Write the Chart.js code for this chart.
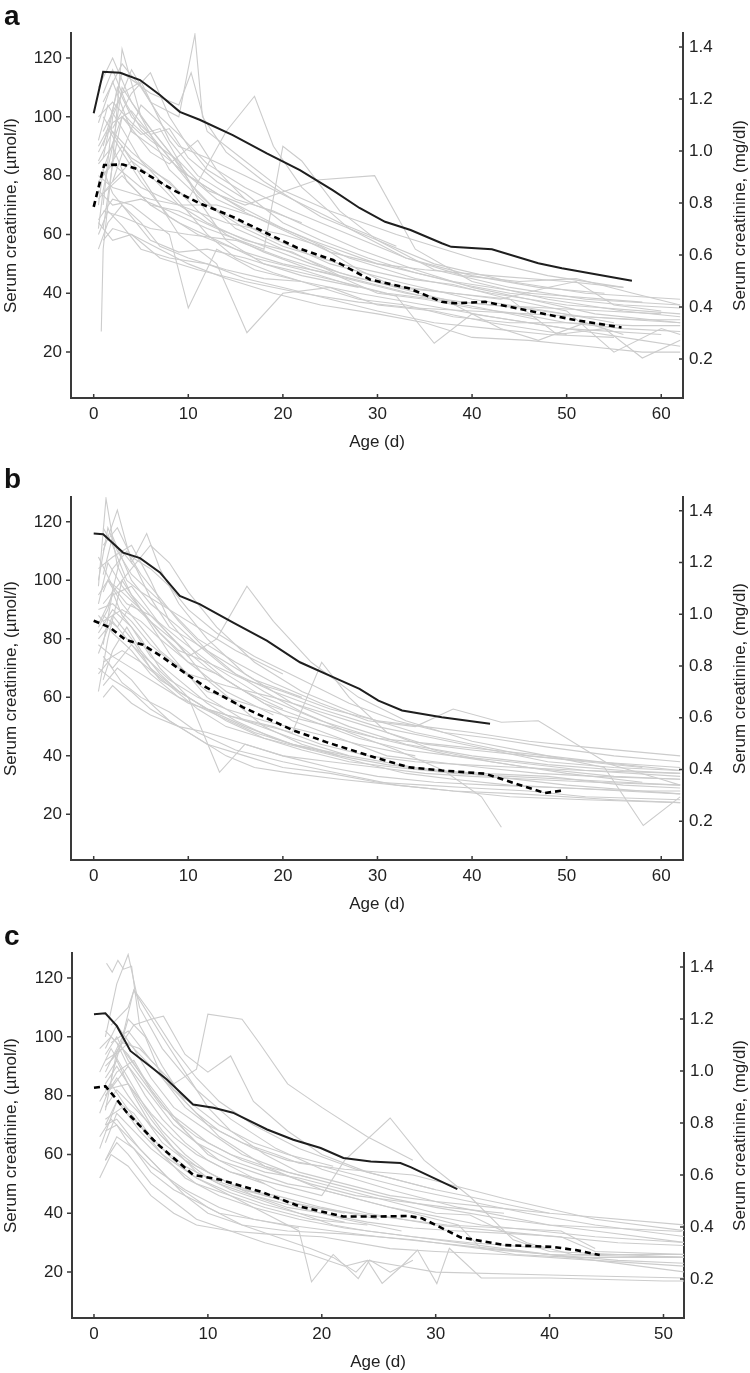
<!DOCTYPE html>
<html>
<head>
<meta charset="utf-8">
<script src="https://cdn.jsdelivr.net/npm/chart.js@4.4.1/dist/chart.umd.min.js"></script>
<style>
  html, body { margin: 0; padding: 0; background: #fff; }
  .panel { position: absolute; left: 0; width: 750px; }
</style>
</head>
<body>
<div class="panel" style="top:0;height:455px"><canvas id="chartA"></canvas></div>
<div class="panel" style="top:455px;height:460px"><canvas id="chartB"></canvas></div>
<div class="panel" style="top:915px;height:458px"><canvas id="chartC"></canvas></div>
<script>
// µmol/l -> mg/dl
const MGDL_FACTOR = 88.4;
const yMinUmol = 4.4;
const yMaxUmol = 128.5;
const umolTicks = [20, 40, 60, 80, 100, 120];
const mgTicks = [0.2, 0.4, 0.6, 0.8, 1.0, 1.2, 1.4];
const ageTicksAB = [0, 10, 20, 30, 40, 50, 60];
const ageTicksC = [0, 10, 20, 30, 40, 50];

const leftTitle = 'Serum creatinine, (\u00b5mol/l)';
const rightTitle = 'Serum creatinine, (mg/dl)';
const ageTitle = 'Age (d)';

// ---- panel a ----
const upperA = [[0,101.2],[1,115.3],[2.8,115],[4.9,112.5],[7,107.4],[9.1,101.7],[11.2,99],[14.7,93.8],[18.3,87.6],[21.8,81.9],[25.3,75],[28.1,69],[30.8,64.3],[33.5,61.5],[36.8,57],[37.8,55.8],[42.1,55],[47,50.2],[49.5,48.5],[56.9,44.3]];
const medianA = [[0,69.4],[1.1,83.6],[3.1,83.8],[4.9,81.9],[8.4,75.1],[11.2,70.6],[14.7,66],[18.3,60.4],[21.5,55.5],[25.3,51.3],[29.2,44.7],[33.3,41.7],[36.8,37.1],[38.2,36.6],[41.4,37.1],[45.6,34.3],[50.9,30.9],[55.8,28.4]];
const grayA = [
  [[0.5,98],[2,112],[4,95],[7,88],[10,80],[14,72],[20,62],[27,52],[34,45],[42,40],[50,36],[62,33]],
  [[0.5,62],[1,75],[2,90],[3,110],[5,100],[8,82],[12,70],[18,60],[25,50],[32,44],[40,38],[48,34],[55,30]],
  [[0.8,27],[1,55],[2,85],[3,123],[5,100],[7,92],[10,80],[13,72],[17,66],[23,58],[30,50],[38,44],[46,40],[58,37]],
  [[1,70],[2,100],[4,116],[6,105],[9,100],[10.7,128],[11.5,100],[14,88],[18,78],[24,66],[30,58],[36,50],[44,44],[52,40],[62,38]],
  [[1,90],[3,115],[6,108],[9,104],[10.3,115],[12,95],[16,85],[20,75],[25,68],[32,60],[40,52],[48,46],[56,42]],
  [[0.5,85],[2,95],[4,88],[7,80],[10,72],[14,95],[17,107],[19,90],[22,76],[27,62],[33,52],[40,46],[47,42],[54,40]],
  [[0.5,75],[2,70],[5,72],[8,68],[12,62],[18,55],[20,90],[22,85],[26,68],[30,58],[36,48],[44,42],[52,38],[62,36]],
  [[0.5,65],[2,72],[4,70],[8,60],[10,35],[13,55],[17,48],[22,44],[28,40],[35,36],[42,32],[50,28],[60,26]],
  [[1,80],[3,90],[6,75],[9,60],[13,50],[16.2,26.6],[20,40],[25,42],[30,36],[36,34],[42,30],[50,26]],
  [[0.5,100],[2,105],[4,98],[6,92],[9,85],[12,75],[16,70],[23.6,78.5],[29.7,80],[34,55],[40,44],[48,38],[56,34],[62,32]],
  [[0.5,60],[1.5,68],[3,63],[5,55],[8,52],[12,50],[16,45],[20,42],[25,38],[30,34],[36,30],[42,28],[48,26],[55,25]],
  [[1,95],[3,108],[5,112],[8,92],[11,80],[15,72],[19,68],[23,62],[28,55],[34,48],[40,42],[46,38],[53,33],[62,30]],
  [[0.5,72],[2,78],[4,85],[6,80],[9,70],[12,64],[16,58],[21,54],[26,46],[31,42],[36,38],[41,35],[47,31]],
  [[1,58],[2,62],[4,60],[7,55],[10,50],[14,45],[19,40],[24,36],[30,33],[35,30],[40,25],[46,24],[52,22],[58,20],[62,20]],
  [[0.5,88],[2,98],[4,102],[7,90],[10,78],[13,68],[16,62],[20,56],[26,50],[33,45],[38,43],[44,38],[50,34],[55,20],[60,28],[62,26]],
  [[1,105],[3,118],[5,110],[7,100],[9,94],[12,84],[16,76],[21,68],[27,60],[33,52],[39,46],[45,44],[51,45],[57,40],[62,36]],
  [[0.5,78],[2,84],[5,76],[9,70],[14,64],[20,60],[24,56],[28,48],[32,42],[38,40],[44,38],[49,26],[54,28],[58,18],[62,24]],
  [[1,68],[3,66],[6,62],[10,60],[15,58],[20,52],[25,47],[30,40],[35,38],[40,35],[45,33],[50,30],[56,28],[62,27]],
  [[0.5,92],[1.5,104],[3,96],[5,85],[8,75],[12,60],[15,52],[19,47],[24,42],[28,38],[33,36],[38,32],[44,30],[50,30],[57,29],[62,29]],
  [[1,82],[3,100],[5,94],[7,96],[9,85],[11,72],[14,58],[18,50],[22,47],[26,44],[31,40],[36,38],[42,36],[48,35],[54,34],[60,33]],
  [[0.5,110],[2,120],[4,105],[6,96],[8,88],[11,74],[15,62],[20,55],[26,47],[32,42],[37,38],[43,28],[47,24],[52,30],[56,26]],
  [[1,74],[3,80],[6,70],[9,64],[13,58],[17,52],[22,48],[27,43],[32,39],[36,23],[40,33],[46,30],[52,27],[58,24],[62,22]],
  [[0.5,64],[2,58],[4,60],[7,52],[11,48],[16,44],[22,40],[28,37],[34,35],[40,34],[46,33],[52,32],[58,31],[62,31]],
  [[2,96],[4,108],[6,115],[8,100],[10,90],[12,82],[16,74],[20,64],[24,58],[29,52],[34,47],[39,43],[44,40],[50,38],[56,36],[62,35]],
  [[0.5,84],[2,90],[3.5,78],[6,70],[9,68],[13,62],[18,56],[23,50],[28,45],[33,42],[38,40],[43,38],[48,42],[51,44],[55,36],[60,34]],
  [[1,100],[2.5,92],[4,86],[6,82],[8,78],[11,68],[14,60],[18,54],[23,48],[28,44],[33,40],[39,37],[45,35],[52,32],[62,30]],
  [[0.5,90],[1.5,96],[3,88],[5,78],[8,66],[11,60],[15,55],[20,50],[26,46]],
  [[1,108],[2,116],[3.5,104],[5,96],[7,90],[9,82],[12,76],[16,68]],
  [[0.5,70],[1,82],[2,74],[4,66],[6,58],[9,54],[12,55],[16,52],[22,46],[28,42]],
  [[1,86],[2.5,110],[4,100],[6,94],[8,96],[10,86],[13,78],[17,70],[22,64]],
  [[0.5,55],[1.5,64],[3,70],[5,64],[7,56],[10,52],[14,48],[18,45],[22,44]],
  [[2,78],[3.5,92],[5,104],[7,98],[9,90],[12,86],[16,80],[21,72],[26,64],[32,56]],
  [[1,62],[2,84],[3,100],[4.5,94],[6,88],[8,84],[11,92],[13,82],[16,72]],
  [[0.5,80],[2,76],[4,74],[6,72],[9,70],[13,70],[17,66],[21,60],[25,54],[30,50],[35,48],[42,46],[50,44],[56,42]]
];

// ---- panel b ----
const upperB = [[0,116],[1,115.8],[3.1,109.5],[4.9,107.6],[7,102.7],[9.1,94.7],[11.2,91.9],[14.7,85.6],[18.3,79.4],[21.8,72],[25.3,66.9],[28.1,62.9],[30.1,58.9],[32.6,55.5],[36.8,53.2],[41.9,51]];
const medianB = [[0,86.2],[1.7,83.9],[3.4,79.6],[5.2,78],[7.3,73.7],[9.8,68],[11.9,63.4],[15.8,56.6],[21.1,48.7],[24.6,44.7],[29.9,39.3],[33.3,36.1],[36.8,35],[41.4,33.9],[44.6,30.5],[47.7,27.3],[49.7,28.2]];
const grayB = [
  [[0.5,98],[1.3,128],[2.5,105],[4,95],[6,88],[9,80],[13,70],[18,60],[24,52],[30,46],[38,40],[46,36],[55,33],[62,32]],
  [[0.5,62],[1.5,80],[3,100],[5,90],[8,75],[12,60],[16,52],[21,46],[27,40],[34,36],[42,33],[50,30],[58,28],[62,27]],
  [[1,110],[2.5,124],[4,106],[5.6,116],[7,104],[9,92],[12,80],[16,68],[21,58],[27,50],[33,44],[40,40],[48,37],[56,35],[62,34]],
  [[0.5,85],[2,95],[4,98],[7,85],[10,74],[13,80],[16.2,98],[19,86],[23,72],[28,60],[33,52],[40,45],[48,40],[56,37],[62,35]],
  [[0.5,75],[2,88],[4,80],[6,70],[9,62],[12,56],[16,52],[21,48],[24.1,72],[27,60],[31,48],[36,42],[42,38],[50,34],[58,31]],
  [[1,92],[3,100],[6,112],[8,106],[10,96],[13,84],[17,72],[22,62],[28,54],[34,48],[40,44],[46,40],[53,38],[62,36]],
  [[0.5,68],[1.5,72],[3,65],[5,60],[8,55],[11,48],[15,42],[20,38],[26,34],[32,30],[38,28],[44,26],[52,25],[62,24]],
  [[1,102],[2,115],[4,100],[6,92],[9,84],[11,78],[14,70],[18,62],[22,55],[27,48],[32,42],[37,35],[41,26],[43.1,15.6]],
  [[0.5,80],[2,86],[4,78],[7,66],[10,60],[13.3,34.4],[16,44],[20,40],[25,36],[30,33],[36,31],[42,30],[50,29],[58,28],[62,28]],
  [[1,118],[2,112],[3.5,100],[5,96],[8,90],[11,80],[15,72],[19,65],[24,58],[29,52],[34,50],[38,56],[43.1,51.5],[47,52],[54.4,37.3],[60,32],[62,30]],
  [[0.5,90],[2,92],[4,86],[6,78],[9,70],[12,62],[16,58],[20,54],[25,50],[30,46],[36,44],[42,42],[48,40],[54,36],[58.1,16.2],[62,26]],
  [[1,72],[3,76],[5,72],[8,64],[11,56],[14,50],[18,46],[22,42],[27,38],[32,36],[38,34],[44,33],[50,32],[56,31],[62,30]],
  [[0.5,104],[2,108],[4,112],[6,100],[8,86],[11,74],[14,66],[18,58],[23,52],[28,46],[33,42],[38,40],[44,38],[52,35],[62,33]],
  [[1,64],[2.5,70],[4,66],[6,58],[8,52],[11,46],[14,40],[17,36],[21,34],[26,32],[32,30],[38,28],[45,27],[55,25],[62,24]],
  [[0.5,95],[1.5,100],[3,92],[5,84],[7,76],[10,68],[14,64],[19,60],[24,55],[29,50],[35,44],[40,42],[46,40],[52,38],[58,36]],
  [[1,86],[3,90],[5,86],[7,80],[10,72],[13,68],[17,60],[21,52],[26,46],[31,40],[36,38],[41,36],[47,34],[53,33],[62,32]],
  [[0.5,78],[2,74],[4,70],[7,64],[10,58],[14,54],[19,50],[24,44],[29,40],[34,38],[39,37],[45,36],[52,35],[62,34]],
  [[1,112],[2.5,118],[4,108],[6,104],[8,98],[10,90],[13,82],[17,74],[22,66],[27,58],[32,52],[37,48],[42,46],[48,43],[55,40],[62,38]],
  [[0.5,70],[2,66],[4,62],[6,56],[9,50],[12,44],[16,40],[20,36],[25,34],[30,31],[35,30],[40,29],[46,28],[52,26],[62,25]],
  [[1,96],[2,104],[3.5,110],[5,102],[7,94],[9,86],[12,76],[15,68],[19,62],[24,56],[30,50],[36,46],[42,42],[48,38],[55,36],[62,35]],
  [[0.5,82],[2,90],[4,84],[6,74],[9,66],[12,58],[15,52],[19,46],[23,42],[28,38],[33,34],[38,32],[44,30],[50,29],[56,28],[62,27]],
  [[1.5,100],[3,96],[5,90],[7,82],[9,76],[12,72],[16,66],[20,62],[25,56],[30,52],[35,50],[40,48],[46,45],[52,43],[62,40]],
  [[0.5,88],[2,82],[4,76],[6,68],[9,60],[13,54],[17,48],[21,44],[26,40],[31,37],[36,35],[41,34],[48,33],[56,30],[62,29]],
  [[1,60],[2,64],[4,58],[6,54],[9,50],[12,48],[16,44],[20,40],[25,38],[30,36],[35,34],[40,33],[46,32],[53,31],[62,30]],
  [[0.5,92],[1.5,106],[3,98],[5,90],[7,82],[10,72],[14,62],[19,54]],
  [[1,78],[2,96],[3,88],[5,80],[7,70],[10,60],[14,52],[18,46],[23,42]],
  [[0.5,100],[1.5,118],[2.5,110],[4,102],[6,96],[8,90],[11,84],[15,76],[20,68]],
  [[1,66],[2,76],[3.5,84],[5,76],[7,68],[9,62],[12,56],[16,50],[21,44],[27,40]],
  [[0.5,84],[1.5,90],[3,110],[4.5,104],[6,94],[8,84],[10,80],[13,74],[17,66],[22,60]],
  [[1,74],[2,70],[4,78],[6,72],[8,66],[11,60],[14,56],[18,52],[23,48],[28,44],[34,40]],
  [[0.5,108],[2,98],[3.5,92],[6,88],[9,78],[12,70],[16,62],[20,56]],
  [[1,88],[2.5,84],[4,92],[6,86],[9,78],[12,66],[15,58],[18,50],[22,44],[26,40]]
];

// ---- panel c ----
const upperC = [[0,107.7],[1,108],[2,103.7],[3.2,95.2],[4.9,90.1],[6.4,85.5],[8.7,77],[10.5,75.9],[12.2,74.2],[15.2,68.5],[17.5,65],[19.9,62.2],[21.9,58.8],[24.3,57.6],[26.9,57.1],[27.8,55.7],[31.9,48.2]];
const medianC = [[0,82.7],[1,83.2],[2,78.7],[2.9,74.2],[3.5,71.9],[5.2,65],[5.8,62.8],[8.7,53.1],[11.1,51.4],[14.6,47.4],[18.1,42.3],[21.9,38.9],[25.1,38.9],[27.6,39.1],[28.8,38.3],[32.2,31.8],[36,29.2],[40.2,28.6],[42.3,27.5],[44.4,25.8]];
const grayC = [
  [[1,100],[2,118],[3,128],[4,110],[6,96],[9,82],[12,72],[16,62],[20,55],[26,48],[32,42],[40,36],[51.6,33.8]],
  [[1.1,125],[1.6,122],[2.1,126],[2.6,123],[3.3,124],[4,104],[6,90],[8,78],[11,66],[15,56],[20,48],[26,42],[34,36],[44,32],[52,30]],
  [[1,88],[2.5,100],[3.5,116],[5,108],[7,96],[9,86],[11,78],[14,70],[18,62],[23,55],[30,48],[40,40],[52,36]],
  [[1,75],[2,95],[3.5,104],[5,106],[6.1,107],[8,94],[10,88],[12,93.5],[14,78],[17,68],[20,60],[24,54],[30,48]],
  [[1.5,98],[3,102],[5,92],[7,84],[9,89],[10,107.7],[13,106],[14.5,98],[17,84],[20,76],[24,66],[28,58]],
  [[1,84],[2,90],[3,84],[5,74],[7,66],[9,60],[12,54],[16,50],[20,46],[22,58],[26,72.4],[29,58],[33,45.7],[36.8,31],[40,27],[46,26],[52,25]],
  [[0.5,62],[2,78],[4,70],[6,60],[8,52],[11,46],[14,42],[18,38],[22,35],[28,32],[36,28],[44,24],[52,20]],
  [[1,92],[2.5,96],[4,88],[6,78],[8,68],[10,60],[13,54],[16,48],[20,44],[24,40],[30,36],[38,33],[46,30],[52,29]],
  [[1,70],[2,72],[4,62],[6,54],[8,46],[10,40],[13,36],[17,34],[22,33],[28,31],[34,28],[40,26],[52,25]],
  [[0.5,78],[2,88],[3.5,92],[5,82],[7,72],[9,64],[12,58],[15,54],[18,52],[22,48],[26,44],[30,40],[33,39.4],[38,30],[42,26],[52,26]],
  [[1,58],[2,64],[3,60],[5,50],[7,44],[9,38],[12,34],[15,30],[19,26],[22,22],[24,24],[25.3,16.2],[27,22],[28.4,27.5],[30.1,16.1],[31.2,28.1],[34,18],[40,18],[50,17],[52,17]],
  [[1,82],[3,84],[5,72],[7,62],[9,54],[12,48],[15,44],[18,40],[21,36],[24,34],[28,32],[33,30],[40,28]],
  [[1,96],[2,104],[3.5,96],[5,86],[7,76],[10,68],[13,60],[17,54],[21,50],[25,46],[30,42],[36,38],[44,34],[52,30]],
  [[0.5,66],[1.5,72],[3,66],[5,58],[7,50],[10,42],[13,36],[16,32],[19,28],[21,25],[23,20],[24,24],[27,22],[30,20],[40,19],[52,18]],
  [[1,86],[2,92],[3.5,80],[5,70],[7,62],[9,56],[12,50],[15,46],[19,42],[23,40],[27,38],[31,36],[36,35],[41,34],[44,28]],
  [[1,90],[3,98],[5,90],[7,82],[9,74],[11,68],[14,62],[17,58],[20,56],[24,52],[28,48],[33,44],[38,40],[44,36],[52,32]],
  [[1,72],[2.5,76],[4,68],[6,60],[9,52],[12,46],[15,40],[18,34],[19.1,16.7],[21,26],[23.2,17.8],[24.2,24.1],[26,20],[28,24]],
  [[1.5,104],[3,110],[3.5,115.7],[6,100],[8,88],[10,76],[12,68],[15,60],[18,54],[22,50],[26,46],[30,44],[35,42],[40,40]],
  [[1,76],[2,82],[4,74],[6,66],[8,58],[11,52],[14,46],[17,42],[20,40],[24,37],[28,35],[32,34],[37,33],[41,32],[44,27],[52,26]],
  [[0.5,52],[1.5,60],[3,56],[5,46],[7,40],[9,36],[12,34],[15,33],[20,32],[26,28],[30,27],[36,26],[44,24],[52,22]],
  [[1,94],[2,100],[3,92],[4.5,84],[6,76],[8,70],[10,64],[13,58],[16,54],[19,50],[23,46],[27,44],[31,42],[36,40]],
  [[1,68],[2,70],[3,64],[5,56],[8,48],[11,42],[14,38],[17,36],[21,34],[25,32],[30,30],[35,28],[40,26],[46,24],[52,23]],
  [[1,80],[3,90],[5,80],[7,70],[9,64],[11,58],[14,54],[17,50],[20,48],[24,44],[28,40],[32,36],[34,28],[37,26],[42,25],[52,25]],
  [[1.5,86],[3,106],[4.5,100],[6,86],[8,76],[10,70],[13,64],[16,60],[18,57],[22,55],[28,53],[36,45],[44,38],[52,34]],
  [[0.5,88],[1.5,96],[3,86],[4.5,76],[6,68],[8,60],[10,54],[13,48],[17,44],[22,40]],
  [[1,64],[2,74],[3,70],[5,62],[7,56],[9,50],[12,46],[15,42],[19,38],[24,36]],
  [[0.5,96],[1.5,100],[3,94],[5,82],[7,72],[9,66],[12,60],[15,56],[19,52]],
  [[1,58],[2,66],[3.5,62],[5,54],[7,48],[9,44],[11,40],[14,38],[18,35]],
  [[1,80],[2,86],[3,80],[4.5,72],[6,64],[8,58],[10,52],[13,48],[16,46],[20,42],[25,38]],
  [[1.5,92],[2.5,98],[4,96],[5.5,90],[7,82],[9,76],[11,70],[14,64],[17,60],[21,56]],
  [[0.5,74],[1.5,84],[2.5,78],[4,70],[6,62],[8,56],[11,50],[14,46],[18,42],[22,38],[27,34]],
  [[1,70],[2,78],[3.5,74],[5,66],[7,58],[9,52],[12,47],[15,43],[18,40],[22,37]],
  [[1,102],[2,98],[3,90],[4.5,80],[6,72],[8,64],[10,58],[12,54],[15,50]]
];

const FONT = '"Liberation Sans", Arial, Helvetica, sans-serif';
const toXY = pts => pts.map(([x, y]) => ({ x, y }));

// draws tick marks (left outward, right/bottom inward), axis titles and panel letter
const axisDecor = {
  id: 'axisDecor',
  afterDraw(chart, args, opts) {
    const { ctx, chartArea: a, scales } = chart;
    ctx.save();
    ctx.strokeStyle = '#3a3a3a';
    ctx.lineWidth = 1.5;
    ctx.beginPath();
    scales.y.ticks.forEach(t => {
      const p = scales.y.getPixelForValue(t.value);
      ctx.moveTo(a.left - 5, p); ctx.lineTo(a.left, p);
    });
    scales.y1.ticks.forEach(t => {
      const p = scales.y1.getPixelForValue(t.value);
      ctx.moveTo(a.right - 4, p); ctx.lineTo(a.right, p);
    });
    scales.x.ticks.forEach(t => {
      const p = scales.x.getPixelForValue(t.value);
      ctx.moveTo(p, a.bottom - 4); ctx.lineTo(p, a.bottom);
    });
    ctx.stroke();

    ctx.fillStyle = '#222';
    ctx.font = '17px ' + FONT;
    ctx.textAlign = 'center';
    ctx.textBaseline = 'middle';
    ctx.fillText(ageTitle, (a.left + a.right) / 2, a.bottom + 44);
    const midY = (a.top + a.bottom) / 2;
    [[11, leftTitle], [740, rightTitle]].forEach(([x, txt]) => {
      ctx.save();
      ctx.translate(x, midY);
      ctx.rotate(-Math.PI / 2);
      ctx.fillText(txt, 0, 0);
      ctx.restore();
    });

    ctx.textAlign = 'left';
    ctx.textBaseline = 'alphabetic';
    ctx.font = 'bold 28px ' + FONT;
    ctx.fillStyle = '#111';
    ctx.fillText(opts.letter, 4, opts.letterY);
    ctx.restore();
  }
};

function makeChart(id, cfg) {
  const datasets = [
    { data: toXY(cfg.upper), borderColor: '#1e1e1e', borderWidth: 2 },
    { data: toXY(cfg.median), borderColor: '#000', borderWidth: 2.6, borderDash: [6, 4] }
  ];
  cfg.gray.forEach(g => datasets.push({ data: toXY(g), borderColor: 'rgb(204,204,204)', borderWidth: 1.1 }));

  const tickFont = { family: FONT, size: 17 };
  const noGrid = { display: false, drawTicks: false };
  new Chart(document.getElementById(id), {
    type: 'line',
    data: { datasets },
    plugins: [axisDecor],
    options: {
      responsive: true,
      maintainAspectRatio: false,
      animation: false,
      events: [],
      layout: { padding: { top: cfg.top, left: 0, right: 0, bottom: 0 } },
      elements: { point: { radius: 0 }, line: { tension: 0, fill: false } },
      plugins: { legend: { display: false }, tooltip: { enabled: false }, axisDecor: { letter: cfg.letter, letterY: cfg.letterY } },
      scales: {
        x: {
          type: 'linear', min: cfg.xMin, max: cfg.xMax,
          grid: noGrid,
          border: { color: '#3a3a3a', width: 2 },
          ticks: { color: '#222', font: tickFont, padding: 6 },
          afterBuildTicks: s => { s.ticks = cfg.xTicks.map(v => ({ value: v })); },
          afterFit: s => { s.height = cfg.height - cfg.bottom; }
        },
        y: {
          type: 'linear', position: 'left', min: yMinUmol, max: yMaxUmol,
          grid: noGrid,
          border: { color: '#3a3a3a', width: 2 },
          ticks: { color: '#222', font: tickFont, padding: 9 },
          afterBuildTicks: s => { s.ticks = umolTicks.map(v => ({ value: v })); },
          afterFit: s => { s.width = cfg.left; }
        },
        y1: {
          type: 'linear', position: 'right', min: yMinUmol / MGDL_FACTOR, max: yMaxUmol / MGDL_FACTOR,
          grid: noGrid,
          border: { color: '#3a3a3a', width: 2 },
          ticks: { color: '#222', font: tickFont, padding: 6, callback: v => v.toFixed(1) },
          afterBuildTicks: s => { s.ticks = mgTicks.map(v => ({ value: v })); },
          afterFit: s => { s.width = 750 - cfg.right; }
        }
      }
    }
  });
}

window.onload = () => {
  makeChart('chartA', { upper: upperA, median: medianA, gray: grayA, xMin: -2.4, xMax: 62.3, xTicks: ageTicksAB,
    left: 71, right: 683, top: 33, bottom: 398, height: 455, letter: 'a', letterY: 25 });
  makeChart('chartB', { upper: upperB, median: medianB, gray: grayB, xMin: -2.4, xMax: 62.3, xTicks: ageTicksAB,
    left: 71, right: 683, top: 42, bottom: 405, height: 460, letter: 'b', letterY: 33 });
  makeChart('chartC', { upper: upperC, median: medianC, gray: grayC, xMin: -1.93, xMax: 51.8, xTicks: ageTicksC,
    left: 72, right: 684, top: 38, bottom: 403, height: 458, letter: 'c', letterY: 30 });
};
</script>
</body>
</html>
